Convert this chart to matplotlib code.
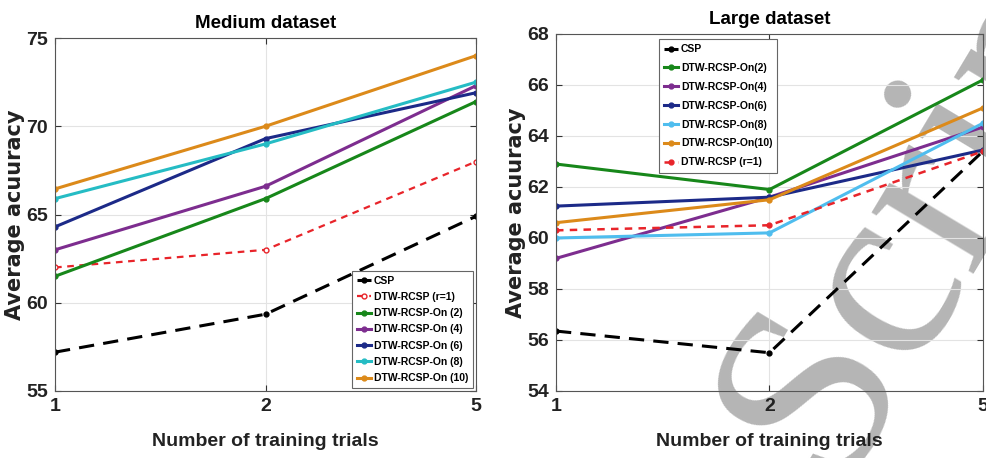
import matplotlib
matplotlib.use("Agg")
import matplotlib.pyplot as plt

# ── data ────────────────────────────────────────────────────────────────
trials = ["1", "2", "5"]

medium_csp = [57.2, 59.35, 64.9]
medium_r1 = [62.0, 63.0, 68.0]
medium_on2 = [61.5, 65.9, 71.4]
medium_on4 = [63.0, 66.6, 72.3]
medium_on6 = [64.3, 69.3, 71.9]
medium_on8 = [65.9, 69.0, 72.5]
medium_on10 = [66.45, 70.0, 74.0]

large_csp = [56.35, 55.5, 63.4]
large_on2 = [62.9, 61.9, 66.2]
large_on4 = [59.2, 61.6, 64.35]
large_on6 = [61.25, 61.6, 63.45]
large_on8 = [60.0, 60.2, 64.5]
large_on10 = [60.6, 61.5, 65.1]
large_r1 = [60.3, 60.5, 63.4]

# ── style ───────────────────────────────────────────────────────────────
SANS = ["Liberation Sans", "DejaVu Sans"]
YLAB = ["DejaVu Sans"]

C_BLACK = "black"
C_RED = "#e8242a"
C_GREEN = "#17871a"
C_PURPLE = "#7d2d8f"
C_NAVY = "#1c2a88"
C_CYAN = "#25bcc4"
C_LBLUE = "#4fbdee"
C_ORANGE = "#dc8a1a"

LW = 2.2
MS = 3.5

fig = plt.figure(figsize=(9.86, 4.58), dpi=100)
ax1 = fig.add_axes([0.0558, 0.1463, 0.427, 0.7707])
ax2 = fig.add_axes([0.5639, 0.1463, 0.433, 0.7795])

# journal watermark, sits behind the axes
fig.text(0.842, -0.055, "Script", family=["Liberation Serif", "DejaVu Serif"],
         fontsize=186, color="#b5b5b5", rotation=59, rotation_mode="anchor",
         ha="left", va="baseline", zorder=-1)

x = list(range(len(trials)))


def style_axes(ax, ylim, yticks, title):
    ax.set_facecolor("none")
    ax.set_xlim(0, len(trials) - 1)
    ax.set_ylim(*ylim)
    ax.set_xticks(x)
    ax.set_xticklabels(trials)
    ax.set_yticks(yticks)
    ax.grid(True, color="#e3e3e3", linewidth=0.8)
    ax.set_axisbelow(True)
    ax.tick_params(direction="in", length=4, width=0.8, top=True, right=True,
                   color="#333333", pad=5)
    for lab in ax.get_xticklabels() + ax.get_yticklabels():
        lab.set_family(SANS)
        lab.set_fontweight("bold")
        lab.set_fontsize(14)
        lab.set_color("#222222")
    for sp in ax.spines.values():
        sp.set_color("#555555")
        sp.set_linewidth(0.8)
    ax.set_title(title, family=SANS, fontweight="bold", fontsize=13.5, pad=7)
    ax.set_xlabel("Number of training trials", family=SANS,
                  fontweight="bold", fontsize=14, labelpad=13, color="#222222")
    ax.set_ylabel("Average acuuracy", family=YLAB, fontweight="bold",
                  fontsize=15, labelpad=1, color="#222222")


LEG_FONT = {"family": SANS, "weight": "bold", "size": 7.5}

# ── medium dataset ──────────────────────────────────────────────────────
ax1.plot(x, medium_csp, color=C_BLACK, lw=LW, ls=(0, (5, 3)), marker="o", ms=MS, label="CSP")
ax1.plot(x, medium_r1, color=C_RED, lw=1.6, ls=(0, (3, 2.5)), marker="o", ms=MS,
         mfc="white", label="DTW-RCSP (r=1)")
ax1.plot(x, medium_on2, color=C_GREEN, lw=LW, marker="o", ms=MS, label="DTW-RCSP-On (2)")
ax1.plot(x, medium_on4, color=C_PURPLE, lw=LW, marker="o", ms=MS, label="DTW-RCSP-On (4)")
ax1.plot(x, medium_on6, color=C_NAVY, lw=LW, marker="o", ms=MS, label="DTW-RCSP-On (6)")
ax1.plot(x, medium_on8, color=C_CYAN, lw=LW, marker="o", ms=MS, label="DTW-RCSP-On (8)")
ax1.plot(x, medium_on10, color=C_ORANGE, lw=LW, marker="o", ms=MS, label="DTW-RCSP-On (10)")
style_axes(ax1, (55, 75), [55, 60, 65, 70, 75], "Medium dataset")
leg1 = ax1.legend(loc="lower right", prop=LEG_FONT,
                  handlelength=1.3, handletextpad=0.3, labelspacing=0.6,
                  borderpad=0.45, fancybox=False, edgecolor="#666666",
                  framealpha=1, borderaxespad=0.3)
leg1.get_frame().set_linewidth(0.8)

# ── large dataset ───────────────────────────────────────────────────────
ax2.plot(x, large_csp, color=C_BLACK, lw=LW, ls=(0, (5, 3)), marker="o", ms=MS, label="CSP")
ax2.plot(x, large_on2, color=C_GREEN, lw=LW, marker="o", ms=MS, label="DTW-RCSP-On(2)")
ax2.plot(x, large_on4, color=C_PURPLE, lw=LW, marker="o", ms=MS, label="DTW-RCSP-On(4)")
ax2.plot(x, large_on6, color=C_NAVY, lw=LW, marker="o", ms=MS, label="DTW-RCSP-On(6)")
ax2.plot(x, large_on8, color=C_LBLUE, lw=LW, marker="o", ms=MS, label="DTW-RCSP-On(8)")
ax2.plot(x, large_on10, color=C_ORANGE, lw=LW, marker="o", ms=MS, label="DTW-RCSP-On(10)")
ax2.plot(x, large_r1, color=C_RED, lw=1.8, ls=(0, (3, 2.5)), marker="o", ms=MS,
         label="DTW-RCSP (r=1)")
style_axes(ax2, (54, 68), [54, 56, 58, 60, 62, 64, 66, 68], "Large dataset")
leg2 = ax2.legend(loc="upper left", bbox_to_anchor=(0.241, 0.986), prop=LEG_FONT,
                  handlelength=1.3, handletextpad=0.3, labelspacing=0.85,
                  borderpad=0.5, fancybox=False, edgecolor="#666666",
                  framealpha=1, borderaxespad=0)
leg2.get_frame().set_linewidth(0.8)

fig.savefig("out.png", dpi=100)
